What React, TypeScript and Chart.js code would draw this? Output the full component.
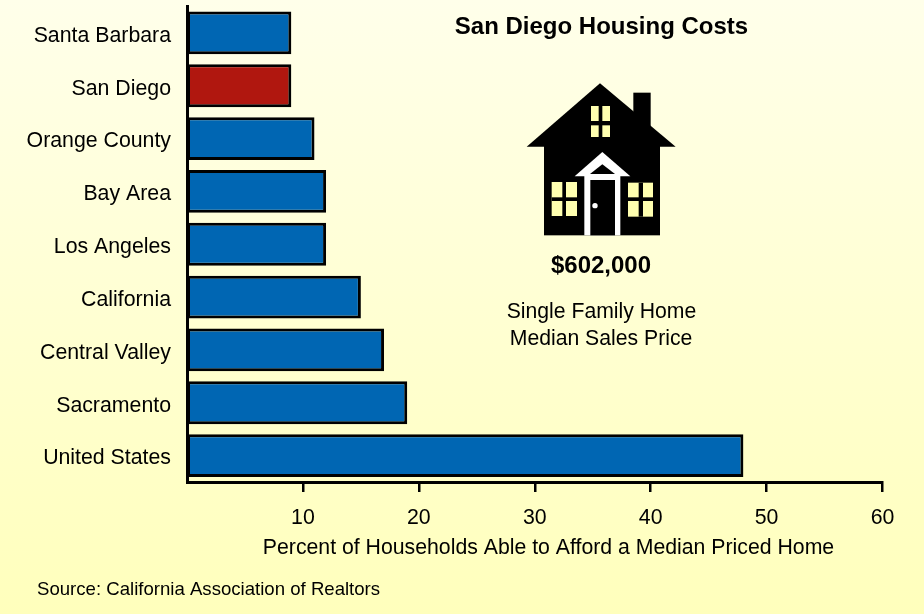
import React, { useEffect, useRef } from "react";
import { Chart, registerables } from "chart.js";

Chart.register(...registerables);

const categories = ["Santa Barbara", "San Diego", "Orange County", "Bay Area", "Los Angeles", "California", "Central Valley", "Sacramento", "United States"];
const percentAble = [9, 9, 11, 12, 12, 15, 17, 19, 48];
const barColors = ["#0066B3", "#B0170F", "#0066B3", "#0066B3", "#0066B3", "#0066B3", "#0066B3", "#0066B3", "#0066B3"];
const xTicks = [10, 20, 30, 40, 50, 60];
const FONT = '"Liberation Sans", Arial, sans-serif';

const notes = [
  { text: "San Diego Housing Costs", x: 601.5, y: 27.5, size: 24, bold: true, align: "center" },
  { text: "$602,000", x: 601, y: 266.5, size: 24, bold: true, align: "center" },
  { text: "Single Family Home", x: 601.5, y: 312, size: 21.2, bold: false, align: "center" },
  { text: "Median Sales Price", x: 601, y: 339, size: 21.2, bold: false, align: "center" },
  { text: "Percent of Households Able to Afford a Median Priced Home", x: 548.5, y: 548, size: 21.25, bold: false, align: "center" },
  { text: "Source: California Association of Realtors", x: 37, y: 590, size: 18.6, bold: false, align: "left" },
];

function poly(ctx: CanvasRenderingContext2D, pts: number[][], fill: string) {
  ctx.fillStyle = fill;
  ctx.beginPath();
  pts.forEach(([x, y], i) => (i ? ctx.lineTo(x, y) : ctx.moveTo(x, y)));
  ctx.closePath();
  ctx.fill();
}

function drawHouse(ctx: CanvasRenderingContext2D) {
  const zx = (v: number) => 500 + v / 3;
  const zy = (v: number) => 70 + v / 3;
  const rect = (x0: number, y0: number, x1: number, y1: number, fill: string) => {
    ctx.fillStyle = fill;
    ctx.fillRect(zx(x0), zy(y0), (x1 - x0) / 3, (y1 - y0) / 3);
  };
  const p = (pts: number[][], fill: string) => poly(ctx, pts.map(([x, y]) => [zx(x), zy(y)]), fill);
  const pane = "#FFFFB0";
  rect(400, 68, 452, 180, "#000");
  p([[300, 40], [527, 230], [80, 230]], "#000");
  rect(132, 228, 480, 496, "#000");
  const win = (x0: number, y0: number, x1: number, y1: number, vx0: number, vx1: number, hy0: number, hy1: number) => {
    rect(x0, y0, x1, y1, pane);
    rect(vx0, y0, vx1, y1, "#000");
    rect(x0, hy0, x1, hy1, "#000");
  };
  win(273, 108, 330, 201, 296, 307, 153, 166);
  win(155, 336, 231, 438, 187, 198, 382, 393);
  win(384, 338, 459, 440, 416, 429, 382, 393);
  p([[307, 246], [391, 319], [224, 319]], "#FFF");
  p([[307, 283], [345, 312], [270, 312]], "#000");
  rect(253, 314, 361, 496, "#FFF");
  rect(271, 330, 345, 496, "#000");
  ctx.fillStyle = "#FFF";
  ctx.beginPath();
  ctx.arc(zx(285), zy(407), 2.7, 0, Math.PI * 2);
  ctx.fill();
}

const backdrop = {
  id: "backdrop",
  beforeDraw(chart: Chart) {
    const { ctx, width, height } = chart;
    const g = ctx.createLinearGradient(0, 0, 0, height);
    g.addColorStop(0, "#FFFFEA");
    g.addColorStop(1, "#FFFFBC");
    ctx.save();
    ctx.fillStyle = g;
    ctx.fillRect(0, 0, width, height);
    ctx.restore();
  },
  afterDraw(chart: Chart) {
    const { ctx } = chart;
    ctx.save();
    drawHouse(ctx);
    ctx.fillStyle = "#000";
    ctx.textBaseline = "middle";
    notes.forEach((n) => {
      ctx.font = `${n.bold ? "bold " : ""}${n.size}px ${FONT}`;
      ctx.textAlign = n.align as CanvasTextAlign;
      ctx.fillText(n.text, n.x, n.y);
    });
    ctx.restore();
  },
};

export default function App() {
  const ref = useRef<HTMLCanvasElement>(null);
  useEffect(() => {
    document.body.style.margin = "0";
    const chart = new Chart(ref.current!, {
      type: "bar",
      data: {
        labels: categories,
        datasets: [
          {
            data: percentAble,
            backgroundColor: barColors,
            borderColor: "#000",
            borderWidth: 3,
            borderSkipped: false,
            barPercentage: 0.81,
            categoryPercentage: 1,
          },
        ],
      },
      options: {
        indexAxis: "y",
        responsive: false,
        animation: false,
        layout: { padding: { top: 6.5, right: 41.5, left: 0, bottom: 0 } },
        plugins: { legend: { display: false }, title: { display: false }, tooltip: { enabled: false } },
        scales: {
          x: {
            type: "linear",
            min: 0,
            max: 60,
            afterFit(scale: any) {
              scale.height = 132;
              scale.paddingLeft = 0;
              scale.paddingRight = 0;
            },
            afterBuildTicks(scale: any) {
              scale.ticks = xTicks.map((value) => ({ value }));
            },
            ticks: {
              color: "#000",
              font: { family: FONT, size: 21.3 },
              padding: 13,
              maxRotation: 0,
            },
            grid: { drawOnChartArea: false, drawTicks: true, tickLength: 10, color: "#000", lineWidth: 2.5 },
            border: { display: true, color: "#000", width: 3 },
          },
          y: {
            type: "category",
            afterFit(scale: any) {
              scale.width = 187;
              scale.paddingTop = 0;
              scale.paddingBottom = 0;
            },
            ticks: { color: "#000", font: { family: FONT, size: 21.3 }, padding: 16, labelOffset: 3, autoSkip: false },
            grid: { display: false, drawTicks: false },
            border: { display: true, color: "#000", width: 3 },
          },
        },
      },
      plugins: [backdrop],
    } as any);
    return () => chart.destroy();
  }, []);
  return <canvas ref={ref} width={924} height={614} style={{ display: "block" }} />;
}
